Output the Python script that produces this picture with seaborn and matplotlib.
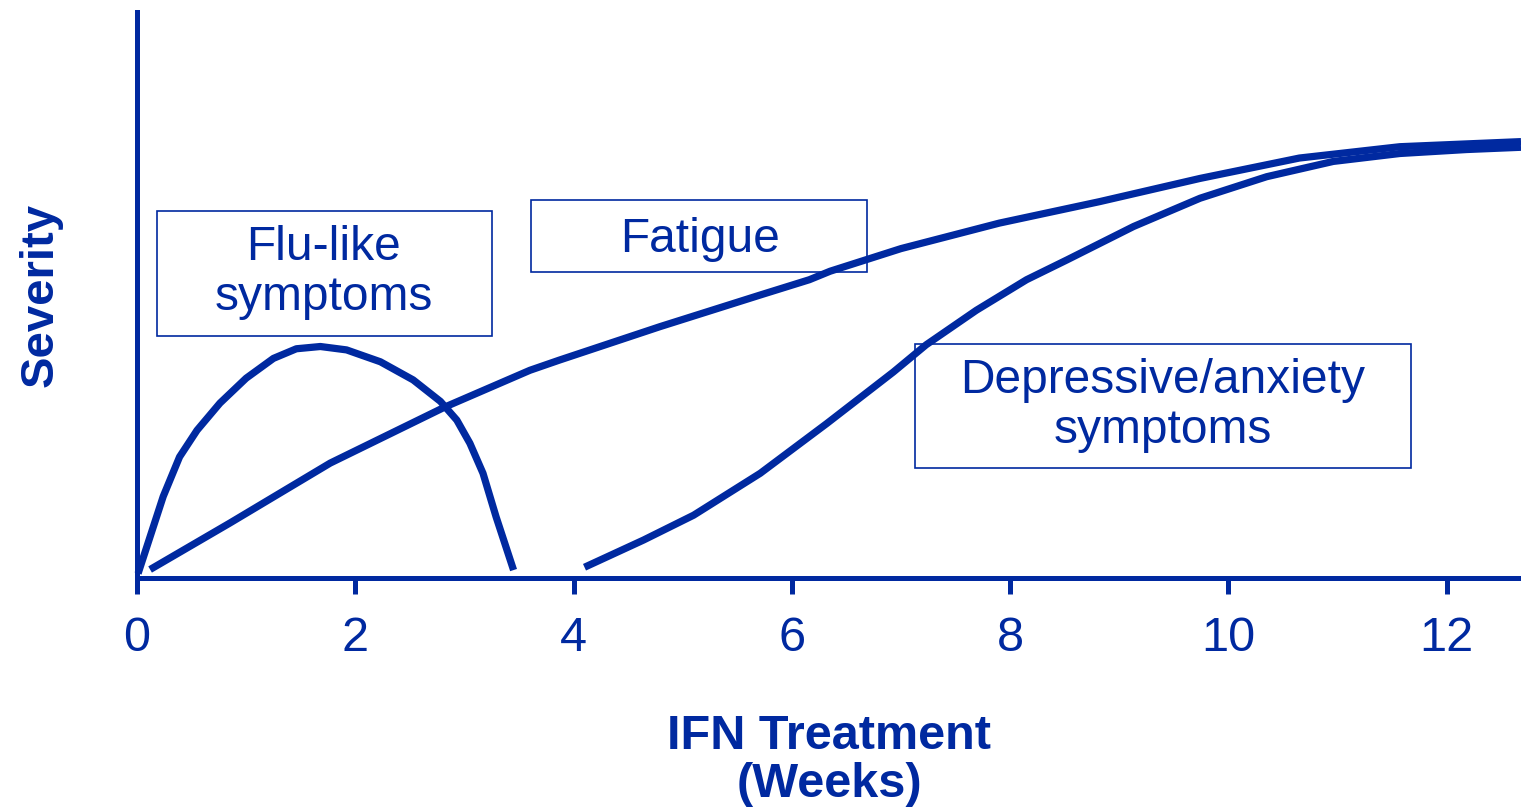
"""
Severity of IFN side effects over weeks of treatment.
"""

import matplotlib.pyplot as plt
import matplotlib.patches as mpatches
import seaborn as sns
import pandas as pd

# values (weeks, severity on an arbitrary 0-10 scale)
flu_weeks = [0.01, 0.12, 0.24, 0.39, 0.55, 0.76, 1.00, 1.25, 1.46, 1.68, 1.92,
             2.23, 2.53, 2.78, 2.93, 3.05, 3.17, 3.29, 3.45]
flu_severity = [0.08, 0.73, 1.44, 2.14, 2.61, 3.09, 3.53, 3.88, 4.05, 4.09, 4.03,
                3.82, 3.50, 3.12, 2.79, 2.38, 1.85, 1.08, 0.14]

fatigue_weeks = [0.12, 0.85, 1.77, 2.82, 3.60, 3.87, 4.79, 5.71, 6.16, 6.35, 7.00,
                 7.90, 8.82, 9.74, 10.65, 11.57, 12.68]
fatigue_severity = [0.15, 0.97, 2.03, 3.02, 3.67, 3.85, 4.44, 5.00, 5.27, 5.42, 5.82,
                    6.27, 6.65, 7.06, 7.42, 7.62, 7.71]

dep_weeks = [4.10, 4.64, 5.10, 5.71, 6.32, 6.93, 7.23, 7.69, 8.15, 8.52, 9.13,
             9.74, 10.35, 10.96, 11.57, 12.18, 12.68]
dep_severity = [0.19, 0.67, 1.11, 1.85, 2.73, 3.64, 4.12, 4.73, 5.27, 5.62, 6.21,
                6.71, 7.09, 7.36, 7.50, 7.57, 7.61]

week_ticks = [0, 2, 4, 6, 8, 10, 12]
labels = ['Flu-like\nsymptoms', 'Fatigue', 'Depressive/anxiety\nsymptoms']

blue = '#0029A0'

df = pd.concat([
    pd.DataFrame({'week': flu_weeks, 'severity': flu_severity, 'effect': labels[0]}),
    pd.DataFrame({'week': fatigue_weeks, 'severity': fatigue_severity, 'effect': labels[1]}),
    pd.DataFrame({'week': dep_weeks, 'severity': dep_severity, 'effect': labels[2]}),
])

sns.set_style('white')
plt.rcParams['font.family'] = ['Liberation Sans', 'DejaVu Sans']

fig = plt.figure(figsize=(15.21, 8.09), dpi=100)
ax = fig.add_axes([137 / 1521, 231 / 809, 1384 / 1521, 566 / 809])

sns.lineplot(data=df, x='week', y='severity', units='effect', estimator=None,
             sort=False, color=blue, lw=5.2, ax=ax, legend=False)
for line in ax.lines:
    line.set_solid_capstyle('butt')
    line.set_solid_joinstyle('round')
    line.set_clip_on(False)

# label boxes: (x0, y0, x1, y1) in data units, plus text centre
boxes = [(0.18, 4.28, 3.25, 6.48), (3.61, 5.41, 6.69, 6.68), (7.13, 1.94, 11.67, 4.13)]
text_pos = [(1.71, 5.39), (5.16, 5.98), (9.40, 3.04)]
for (x0, y0, x1, y1), (tx, ty), lab in zip(boxes, text_pos, labels):
    ax.add_patch(mpatches.Rectangle((x0, y0), x1 - x0, y1 - y0, fill=False,
                                    edgecolor=blue, lw=1.2))
    ax.text(tx, ty, lab, ha='center', va='center', fontsize=34.5, color=blue,
            linespacing=1.14)

ax.set_xlim(0, 12.68)
ax.set_ylim(0, 10)
ax.set_xticks(week_ticks)
ax.set_yticks([])
sns.despine(ax=ax)
for side in ['left', 'bottom']:
    ax.spines[side].set_color(blue)
    ax.spines[side].set_linewidth(3.6)
ax.tick_params(axis='x', direction='out', length=11.5, width=3.6, color=blue,
               labelcolor=blue, labelsize=35, pad=16, bottom=True)

ax.set_xlabel('IFN Treatment\n(Weeks)', fontsize=35, fontweight='bold', color=blue,
              linespacing=1.1)
ax.set_ylabel('Severity', fontsize=34, fontweight='bold', color=blue)
ax.xaxis.set_label_coords(0.5, -0.24)
ax.yaxis.set_label_coords(-0.054, 0.5)

plt.savefig('out.png', dpi=100)
